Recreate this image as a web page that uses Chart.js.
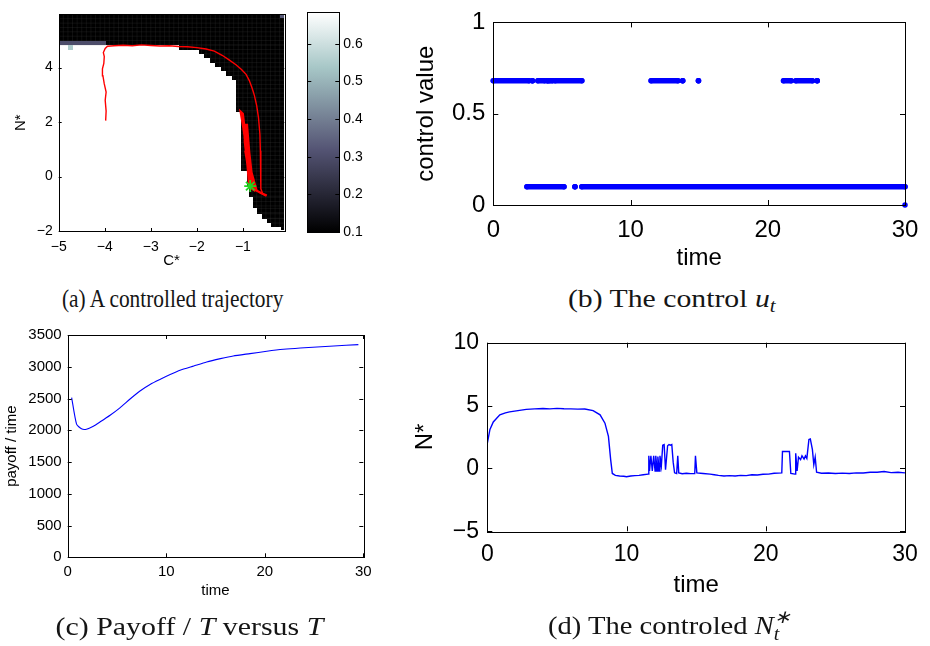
<!DOCTYPE html>
<html>
<head>
<meta charset="utf-8">
<script src="https://cdn.jsdelivr.net/npm/chart.js@4.4.1/dist/chart.umd.min.js"></script>
<style>
  html, body { margin: 0; padding: 0; background: #fff; }
  #fig { position: relative; width: 930px; height: 646px; overflow: hidden; }
  .pane { position: absolute; }
  .cap { position: absolute; font-family: "Liberation Serif", "Times New Roman", serif; font-size: 26px;
         white-space: nowrap; color: #151515; transform-origin: center center; line-height: 1.2; }
  .cap i { font-style: italic; }
  .cap sub { font-size: 0.7em; font-style: italic; vertical-align: -0.3em; line-height: 0; }
  .ss { display: inline-block; vertical-align: -0.35em; font-size: 0.7em; line-height: 0.95; font-style: italic; }
  .ss span { display: block; }
</style>
</head>
<body>
<div id="fig">
  <div class="pane" style="left:0;top:0;width:300px;height:280px"><canvas id="cA"></canvas></div>
  <div class="pane" style="left:295px;top:0;width:85px;height:250px"><canvas id="cBar"></canvas></div>
  <div class="pane" style="left:400px;top:0;width:530px;height:280px"><canvas id="cB"></canvas></div>
  <div class="pane" style="left:0;top:320px;width:400px;height:300px"><canvas id="cC"></canvas></div>
  <div class="pane" style="left:400px;top:320px;width:530px;height:300px"><canvas id="cD"></canvas></div>

  <div class="cap" data-cx="172" data-cy="298" data-w="221">(a) A controlled trajectory</div>
  <div class="cap" data-cx="671" data-cy="298" data-w="207">(b) The control <i>u</i><sub>t</sub></div>
  <div class="cap" data-cx="189" data-cy="626" data-w="268">(c) Payoff / <i>T</i> versus <i>T</i></div>
  <div class="cap" data-cx="669" data-cy="626" data-w="242">(d) The controled <i>N</i><span class="ss"><span>&lowast;</span><span>t</span></span></div>
</div>
<script>
/* (a) controlled trajectory in the (C*, N*) plane: the long arc first ... */
const arcC = [-3.98, -3.97, -3.99, -3.97, -4.01, -4.04, -4.05, -4.02, -4.01, -4.03, -3.99, -3.94,
  -3.8, -3.6, -3.4, -3.2, -3.0, -2.8, -2.6, -2.4, -2.2, -2.0, -1.8, -1.62, -1.45, -1.3, -1.15,
  -1.03, -0.93, -0.86, -0.8, -0.75, -0.7, -0.66, -0.63, -0.62, -0.61, -0.61, -0.57, -0.5];
const arcN = [2.05, 2.4, 2.8, 3.1, 3.4, 3.7, 3.95, 4.15, 4.4, 4.55, 4.7, 4.78,
  4.8, 4.82, 4.8, 4.83, 4.81, 4.79, 4.8, 4.77, 4.76, 4.73, 4.68, 4.6, 4.45, 4.28, 4.1,
  3.93, 3.75, 3.52, 3.25, 2.98, 2.6, 2.15, 1.55, 0.95, 0.3, -0.45, -0.62, -0.7];
/* ... then the back-and-forth near the target */
const loopC = [-0.5, -0.62, -0.76, -0.84, -0.93, -0.84, -0.94, -0.83, -0.95, -0.8, -0.93, -0.86, -0.99, -0.93,
  -0.82, -1.0, -0.91, -0.8, -0.93, -0.86, -0.76, -0.9, -0.82, -0.78, -0.96, -0.91, -0.8, -0.95,
  -0.86, -0.94, -0.88, -1.05, -1.0, -0.86, -0.93, -0.81, -0.87, -0.79, -0.9, -0.84, -0.97, -0.82,
  -0.7, -0.56, -0.48];
const loopN = [-0.7, -0.6, -0.45, -0.36, 1.0, -0.25, 1.0, -0.2, 0.95, -0.2, 1.0, -0.15, 1.9, 1.85,
  -0.1, 1.9, 1.9, -0.35, 1.0, -0.4, -0.5, 1.0, -0.4, -0.45, 1.4, 1.4, -0.4, 1.2,
  -0.2, 1.0, 0.7, 2.38, 2.3, 0.3, 0.9, -0.3, 0.5, -0.2, 1.5, 0.4, 1.7, 0.2,
  -0.52, -0.64, -0.7];
const targetC = [-0.84];
const targetN = [-0.35];

/* (a) value map: black region, row by row [N from, N to, black from C] */
const blackLevel = 0.1;
const heatRows = [
  [4.82, 5.95, -5.0], [4.66, 4.82, -2.39], [4.5, 4.66, -1.95], [4.34, 4.5, -1.85],
  [4.18, 4.34, -1.72], [4.02, 4.18, -1.6], [3.86, 4.02, -1.48], [3.7, 3.86, -1.36],
  [3.54, 3.7, -1.24], [2.37, 3.54, -1.15], [0.2, 2.37, -1.05], [-0.4, 0.2, -0.92],
  [-0.76, -0.4, -0.86], [-1.17, -0.76, -0.79], [-1.37, -1.17, -0.7], [-1.55, -1.37, -0.59],
  [-1.71, -1.55, -0.48], [-1.86, -1.71, -0.38], [-1.97, -1.86, -0.18]
];
/* single cells [C from, C to, N from, N to, value] */
const heatCells = [
  [-5.0, -3.98, 4.82, 4.96, 0.3],
  [-4.8, -4.7, 4.66, 4.82, 0.55],
  [-0.2, -0.1, 5.8, 5.95, 0.33]
];
const cTicksA = [-5, -4, -3, -2, -1];
const nTicksA = [-2, 0, 2, 4];
const barTicks = [0.1, 0.2, 0.3, 0.4, 0.5, 0.6];
const barMin = 0.1, barMax = 0.683;

/* (b) control: runs of time where u sits on each level */
const uHigh = 0.68, uLow = 0.1;
const highRuns = [[0, 2.6], [2.85, 2.85], [3.25, 3.75], [3.95, 3.95], [4.1, 4.3], [4.5, 6.45],
  [11.5, 13.45], [13.8, 13.8], [14.95, 14.95], [21.15, 21.7], [22.05, 23.25], [23.6, 23.6]];
const lowRuns = [[2.45, 5.15], [5.95, 5.95], [6.45, 30]];
const uLastT = [30], uLastV = [0];
const timeTicks = [0, 10, 20, 30];
const uTicks = [0, 0.5, 1];

/* (c) payoff / T versus T */
const payT = [0.4, 0.9, 1.4, 1.9, 2.6, 3.3, 4.3, 5.3, 6.3, 7.3, 8.4, 9.4, 10.4, 11.4, 12.8,
  14.1, 15.5, 16.8, 18.5, 20.2, 21.9, 23.6, 25.3, 27, 29.5];
const payV = [2515, 2096, 2023, 2017, 2064, 2133, 2237, 2353, 2489, 2615, 2725, 2803, 2877, 2945, 3013,
  3076, 3128, 3170, 3207, 3244, 3275, 3296, 3312, 3327, 3348];
const payTicks = [0, 500, 1000, 1500, 2000, 2500, 3000, 3500];

/* (d) controlled N*_t */
const nT = [0, 0.19, 0.43, 0.9, 1.3, 1.6, 2.2, 2.8, 3.4, 4, 4.5, 5, 5.5, 6, 6.5, 7, 7.6, 8.1, 8.45, 8.7, 8.86, 8.98,
  9.2, 9.5, 9.8, 10, 10.3, 10.6, 10.9, 11.2, 11.55,
  11.6, 11.65, 11.75, 11.85, 11.95, 12.05, 12.1, 12.2, 12.25, 12.35, 12.4, 12.5, 12.6, 12.7, 12.8,
  12.95, 13.05, 13.15, 13.25, 13.35, 13.45, 13.6, 13.68, 13.75, 14, 14.3, 14.6, 14.9, 14.95, 15.05, 15.5,
  16, 16.3, 16.6, 17, 17.4, 17.8, 18.2, 18.6, 19, 19.4, 19.8, 20.2, 20.6, 21.15,
  21.2, 21.7, 21.8, 22.1, 22.15, 22.25, 22.35, 22.5, 22.6,
  22.75, 22.85, 22.95, 23.1, 23.2, 23.35, 23.45, 23.55, 23.65, 24, 24.5, 25, 25.5, 26, 26.5, 27, 27.5,
  28, 28.5, 29, 29.5, 30];
const nV = [2.0, 3.1, 3.7, 4.26, 4.42, 4.5, 4.6, 4.7, 4.74, 4.77, 4.74, 4.78, 4.75, 4.74, 4.72, 4.73, 4.6, 4.26, 3.6, 2.55, 0.7, -0.4,
  -0.55, -0.6, -0.62, -0.66, -0.6, -0.57, -0.55, -0.5, -0.45,
  1.0, -0.2, 1.0, -0.2, 1.0, -0.2, 1.0, -0.2, 0.95, -0.2, 1.0, 0.2, 1.85, 1.9, -0.1,
  1.8, 1.9, 1.85, 1.9, 0.5, -0.35, -0.4, 1.0, -0.35, -0.42, -0.38, -0.41, -0.4, 1.0, -0.35, -0.4,
  -0.45, -0.5, -0.55, -0.6, -0.57, -0.6, -0.55, -0.57, -0.5, -0.52, -0.46, -0.45, -0.38, -0.35,
  1.35, 1.35, -0.4, -0.45, 1.2, -0.2, 0.9, 0.7, 1.0,
  0.75, 1.0, 0.8, 2.3, 2.35, 1.5, 0.3, 0.9, -0.3, -0.38, -0.36, -0.4, -0.37, -0.4, -0.35, -0.36, -0.3,
  -0.3, -0.24, -0.33, -0.3, -0.35];
const nTicks = [-5, 0, 5, 10];

const SANS = '"Liberation Sans", Arial, Helvetica, sans-serif';
const num = (v) => (v < 0 ? '\u2212' + Math.abs(v) : String(v));
const pts = (xs, ys) => xs.map((x, i) => ({ x, y: ys[i] }));

/* bone colormap */
function bone(v) {
  let t = (v - barMin) / (barMax - barMin);
  t = Math.max(0, Math.min(1, t));
  const cl = (u) => Math.max(0, Math.min(1, u));
  const r = 7 / 8 * t + 1 / 8 * cl((t - 0.75) / 0.25);
  const g = 7 / 8 * t + 1 / 8 * cl((t - 0.375) / 0.375);
  const b = 7 / 8 * t + 1 / 8 * cl(t / 0.375);
  return `rgb(${Math.round(r * 255)},${Math.round(g * 255)},${Math.round(b * 255)})`;
}

function axis(o) {
  const vertical = o.pos === 'left' || o.pos === 'right';
  return {
    type: 'linear', position: o.pos, min: o.min, max: o.max,
    display: o.display !== false,
    grid: { display: false, drawTicks: false },
    border: { display: false },
    afterBuildTicks: (s) => { s.ticks = o.ticks.map((v) => ({ value: v })); },
    afterFit: (s) => { if (vertical) s.width = o.size; else s.height = o.size; },
    ticks: { color: '#000', font: { family: SANS, size: o.font }, padding: o.pad,
      autoSkip: false, maxRotation: 0, callback: (v) => num(v) },
    title: { display: !!o.title, text: o.title, color: '#000',
      font: { family: SANS, size: o.tfont || o.font }, padding: o.tpad || 0 },
  };
}

function opts(pad, scales, box) {
  return {
    responsive: true, maintainAspectRatio: false, animation: false, events: [],
    layout: { padding: pad },
    plugins: { legend: { display: false }, tooltip: { enabled: false }, matBox: box || {} },
    scales,
  };
}

// MATLAB style box with inward ticks on all sides
const matBox = {
  id: 'matBox',
  afterDatasetsDraw(chart, args, o) {
    const { ctx, chartArea: a, scales: { x, y } } = chart;
    const len = o.len || 5;
    ctx.save();
    ctx.strokeStyle = '#000';
    ctx.lineWidth = 1;
    ctx.beginPath();
    if (!o.noX) {
      x.ticks.forEach((t) => {
        const p = Math.round(x.getPixelForValue(t.value)) + 0.5;
        ctx.moveTo(p, a.bottom); ctx.lineTo(p, a.bottom - len);
        ctx.moveTo(p, a.top); ctx.lineTo(p, a.top + len);
      });
    }
    y.ticks.forEach((t) => {
      const p = Math.round(y.getPixelForValue(t.value)) + 0.5;
      ctx.moveTo(a.left, p); ctx.lineTo(a.left + len, p);
      ctx.moveTo(a.right, p); ctx.lineTo(a.right - len, p);
    });
    ctx.stroke();
    ctx.strokeRect(Math.round(a.left) + 0.5, Math.round(a.top) + 0.5,
      Math.round(a.right - a.left), Math.round(a.bottom - a.top));
    ctx.restore();
  },
};

const heatmap = {
  id: 'heatmap',
  beforeDatasetsDraw(chart) {
    const { ctx, chartArea: a, scales: { x, y } } = chart;
    ctx.save();
    ctx.beginPath();
    ctx.rect(a.left, a.top, a.right - a.left, a.bottom - a.top);
    ctx.clip();
    const cell = (c0, c1, n0, n1, v) => {
      const px0 = Math.round(x.getPixelForValue(c0)), px1 = Math.round(x.getPixelForValue(c1));
      const py0 = Math.round(y.getPixelForValue(n1)), py1 = Math.round(y.getPixelForValue(n0));
      ctx.fillStyle = bone(v);
      ctx.fillRect(px0, py0, px1 - px0, py1 - py0);
      return [px0, py0, px1, py1];
    };
    // faint cell edges inside the dark block, like the rendered surface mesh
    ctx.strokeStyle = 'rgba(70,70,70,0.35)';
    ctx.lineWidth = 0.6;
    heatRows.forEach(([n0, n1, c0]) => {
      const [px0, py0, px1, py1] = cell(c0, x.max, n0, n1, blackLevel);
      ctx.beginPath();
      for (let c = x.max; c > c0 + 1e-6; c -= 0.1) {
        const p = x.getPixelForValue(c);
        ctx.moveTo(p, py0); ctx.lineTo(p, py1);
      }
      for (let n = n1; n > n0 + 1e-6; n -= 0.16) {
        const p = y.getPixelForValue(n);
        ctx.moveTo(px0, p); ctx.lineTo(px1, p);
      }
      ctx.stroke();
    });
    heatCells.forEach(([c0, c1, n0, n1, v]) => cell(c0, c1, n0, n1, v));
    ctx.restore();
  },
};

const colorbar = {
  id: 'colorbar',
  beforeDatasetsDraw(chart) {
    const { ctx, chartArea: a } = chart;
    const g = ctx.createLinearGradient(0, a.bottom, 0, a.top);
    [0, 0.125, 0.25, 0.375, 0.5, 0.625, 0.75, 0.875, 1].forEach((t) =>
      g.addColorStop(t, bone(barMin + t * (barMax - barMin))));
    ctx.save();
    ctx.fillStyle = g;
    ctx.fillRect(a.left, a.top, a.right - a.left, a.bottom - a.top);
    ctx.restore();
  },
};

// (a)
new Chart(document.getElementById('cA'), {
  type: 'scatter',
  data: { datasets: [
    { data: pts(targetC, targetN), pointStyle: 'star', pointRadius: 6, borderColor: '#1fd61f',
      backgroundColor: '#1fd61f', pointBorderWidth: 1.8, order: 0 },
    { data: pts(arcC, arcN), showLine: true, borderColor: '#ff0000', borderWidth: 1.4,
      pointRadius: 0, tension: 0, order: 2 },
    { data: pts(loopC, loopN), showLine: true, borderColor: '#ff0000', borderWidth: 2.2,
      pointRadius: 0, tension: 0, order: 1 },
  ] },
  options: opts({ left: 0, top: 10.7, right: 15.7, bottom: 0 }, {
    x: axis({ pos: 'bottom', min: -5, max: -0.1, ticks: cTicksA, size: 49, font: 14, pad: 7.3,
      title: 'C*', tfont: 15, tpad: { bottom: 9.9 } }),
    y: axis({ pos: 'left', min: -2, max: 5.95, ticks: nTicksA, size: 58.7, font: 14, pad: 6,
      title: 'N*', tfont: 15, tpad: { top: 12.3 } }),
  }, { len: 3 }),
  plugins: [heatmap, matBox],
});

// colorbar
new Chart(document.getElementById('cBar'), {
  type: 'scatter',
  data: { datasets: [] },
  options: opts({ left: 12.3, top: 11, right: 0, bottom: 18 }, {
    x: axis({ pos: 'bottom', min: 0, max: 1, ticks: [], size: 0, font: 14, pad: 0, display: false }),
    y: axis({ pos: 'right', min: barMin, max: barMax, ticks: barTicks, size: 40.7, font: 14, pad: 4 }),
  }, { len: 4, noX: true }),
  plugins: [colorbar, matBox],
});

// (b)
function runData(runs, level) {
  const out = [];
  runs.forEach(([a, b]) => { out.push({ x: a, y: level }, { x: b, y: level }, { x: b, y: null }); });
  return out;
}
const dotBand = { showLine: true, borderColor: '#0000ff', backgroundColor: '#0000ff', borderWidth: 5.5,
  borderCapStyle: 'round', pointRadius: 2.75, pointBorderWidth: 0, spanGaps: false, clip: false };
new Chart(document.getElementById('cB'), {
  type: 'scatter',
  data: { datasets: [
    Object.assign({ data: runData(highRuns, uHigh) }, dotBand),
    Object.assign({ data: runData(lowRuns, uLow) }, dotBand),
    { data: pts(uLastT, uLastV), pointRadius: 2.75, backgroundColor: '#0000ff', pointBorderWidth: 0, clip: false },
  ] },
  options: opts({ left: 0, top: 16, right: 25, bottom: 0 }, {
    x: axis({ pos: 'bottom', min: 0, max: 30, ticks: timeTicks, size: 75, font: 24, pad: 10.6,
      title: 'time', tpad: { bottom: 7.6 } }),
    y: axis({ pos: 'left', min: 0, max: 1, ticks: uTicks, size: 93.3, font: 24, pad: 8,
      title: 'control value', tpad: { top: 12.3 } }),
  }, { len: 5 }),
  plugins: [matBox],
});

// (c)
new Chart(document.getElementById('cC'), {
  type: 'scatter',
  data: { datasets: [
    { data: pts(payT, payV), showLine: true, borderColor: '#0000ff', borderWidth: 1.1, pointRadius: 0, tension: 0.2 },
  ] },
  options: opts({ left: 0, top: 14.7, right: 36.7, bottom: 0 }, {
    x: axis({ pos: 'bottom', min: 0, max: 30, ticks: timeTicks, size: 62.7, font: 15, pad: 5.4,
      title: 'time', tpad: { bottom: 20.3 } }),
    y: axis({ pos: 'left', min: 0, max: 3500, ticks: payTicks, size: 67.7, font: 15, pad: 6,
      title: 'payoff / time', tpad: { top: 2.7 } }),
  }, { len: 4 }),
  plugins: [matBox],
});

// (d)
new Chart(document.getElementById('cD'), {
  type: 'scatter',
  data: { datasets: [
    { data: pts(nT, nV), showLine: true, borderColor: '#0000ff', borderWidth: 1.4, pointRadius: 0, tension: 0 },
  ] },
  options: opts({ left: 0, top: 22.7, right: 25, bottom: 0 }, {
    x: axis({ pos: 'bottom', min: 0, max: 30, ticks: timeTicks, size: 88.7, font: 23, pad: 9.9,
      title: 'time', tfont: 24, tpad: { bottom: 19.9 } }),
    y: axis({ pos: 'left', min: -5, max: 10, ticks: nTicks, size: 87.3, font: 23, pad: 8.3,
      title: 'N*', tfont: 24, tpad: { top: 10.6 } }),
  }, { len: 5 }),
  plugins: [matBox],
});

// captions: centre on their spot and squeeze to the measured width
document.querySelectorAll('.cap').forEach((el) => {
  const w = el.offsetWidth, h = el.offsetHeight;
  el.style.left = (+el.dataset.cx - w / 2) + 'px';
  el.style.top = (+el.dataset.cy - h / 2) + 'px';
  el.style.transform = `scaleX(${(+el.dataset.w / w).toFixed(3)})`;
});
</script>
</body>
</html>
